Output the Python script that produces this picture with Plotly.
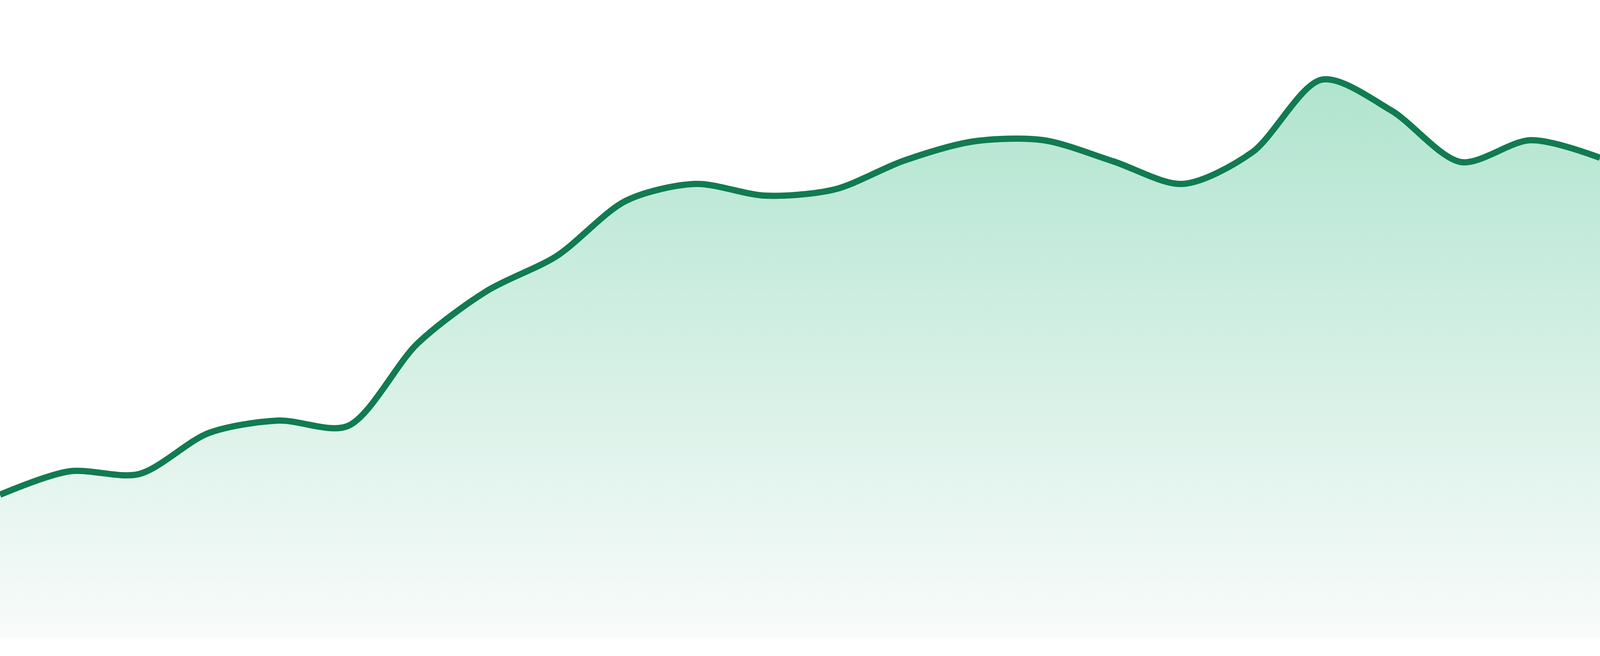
import plotly.graph_objects as go

# ---------------------------------------------------------------
# data (one point per period)
periods = list(range(24))
values = [36.6, 42.6, 41.9, 52.4, 55.6, 54.2, 75.3, 88.8,
          97.7, 111.9, 116.2, 113.2, 114.8, 122.2, 127.1, 127.4,
          122.0, 116.2, 124.3, 142.9, 135.0, 121.8, 127.4, 122.9]

y_top = 163.3

LINE = "#117b52"
FILL_TOP = "#b0e4cf"
FILL_BOTTOM = "#f8fbfa"

fig = go.Figure()
fig.add_trace(go.Scatter(
    x=periods, y=values,
    mode="lines",
    line=dict(color=LINE, width=16, shape="spline", smoothing=0.85),
    fill="tozeroy",
    fillgradient=dict(
        type="vertical",
        start=0, stop=max(values),
        colorscale=[[0, FILL_BOTTOM], [1, FILL_TOP]],
    ),
    hoverinfo="skip",
    showlegend=False,
))

fig.update_xaxes(visible=False, range=[periods[0], periods[-1]])
# white strip below the area is ~47px of 1680
fig.update_yaxes(visible=False, range=[0, y_top], domain=[47 / 1680, 1])

fig.update_layout(
    autosize=True,
    margin=dict(l=0, r=0, t=0, b=0, pad=0),
    paper_bgcolor="white",
    plot_bgcolor="white",
    showlegend=False,
)

# drop the default page margin so the chart fills the window
fix_css = ("document.body.style.margin='0';"
           "document.documentElement.style.overflow='hidden';"
           "Plotly.Plots.resize(document.getElementById('{plot_id}'));")

fig.write_html("out.html", config={"displayModeBar": False, "responsive": True},
               post_script=fix_css)
